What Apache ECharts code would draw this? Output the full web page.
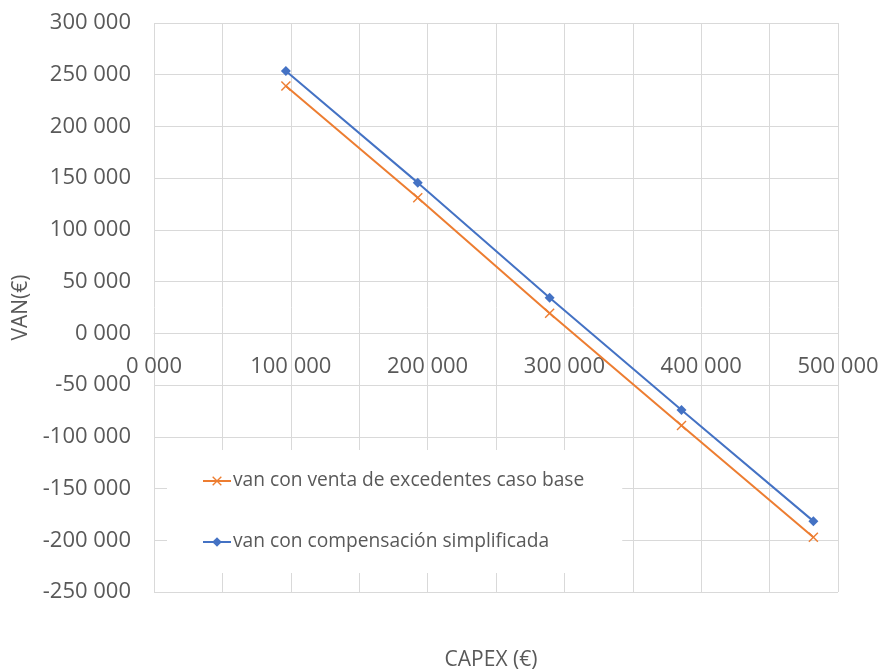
<!DOCTYPE html>
<html>
<head>
<meta charset="utf-8">
<script src="https://cdn.jsdelivr.net/npm/echarts@6/dist/echarts.min.js"></script>
<style>html,body{margin:0;padding:0;background:#fff}#c{width:882px;height:671px}</style>
</head>
<body>
<div id="c"></div>
<script>
const capex = [96400, 192800, 289200, 385600, 482000];
const vanVenta = [239000, 131000, 19500, -89000, -197000];
const vanCompensacion = [253500, 145700, 34500, -74000, -181500];
const seriesNames = ['van con venta de excedentes caso base', 'van con compensación simplificada'];
const xAxisTitle = 'CAPEX (€)';
const yAxisTitle = 'VAN(€)';

function fmt(v) {
  const k = Math.round(v / 1000);
  return (k < 0 ? '-' : '') + Math.abs(k) + ' 000';
}
const FONT = '"Open Sans"';
const GRAY = '#595959';
const GRID = '#d9d9d9';
const xMark = 'path://M1,0 L5,4 L9,0 L10,1 L6,5 L10,9 L9,10 L5,6 L1,10 L0,9 L4,5 L0,1 Z';

const H = 671, TOP = 23, BOTTOM = 79;
const Y_MIN = -250000, Y_MAX = 300000;
const plotH = H - TOP - BOTTOM;
const zeroOffset = -plotH * (0 - Y_MIN) / (Y_MAX - Y_MIN);

const chart = echarts.init(document.getElementById('c'), null, {renderer: 'canvas'});
chart.setOption({
  animation: false,
  backgroundColor: '#fff',
  grid: {left: 154, right: 44, top: TOP, bottom: BOTTOM, containLabel: false, outerBoundsMode: 'none'},
  xAxis: {
    type: 'value', min: 0, max: 500000, interval: 100000,
    position: 'bottom', offset: zeroOffset,
    name: xAxisTitle, nameLocation: 'middle', nameGap: 316,
    nameTextStyle: {fontFamily: FONT, fontSize: 21, color: GRAY, padding: [0, 10, 0, 0]},
    axisLine: {show: true, onZero: false, lineStyle: {color: GRID, width: 1}},
    axisTick: {show: false},
    axisLabel: {formatter: fmt, fontFamily: FONT, fontSize: 22, color: GRAY, margin: 22},
    splitLine: {show: true, lineStyle: {color: GRID, width: 1}},
    minorTick: {show: false, splitNumber: 2},
    minorSplitLine: {show: true, lineStyle: {color: GRID, width: 1}}
  },
  yAxis: {
    type: 'value', min: Y_MIN, max: Y_MAX, interval: 50000,
    name: yAxisTitle, nameLocation: 'middle', nameGap: 111,
    nameTextStyle: {fontFamily: FONT, fontSize: 21, color: GRAY},
    axisLine: {show: false, onZero: false},
    axisTick: {show: false},
    axisLabel: {formatter: fmt, fontFamily: FONT, fontSize: 22, color: GRAY, margin: 23},
    splitLine: {show: true, lineStyle: {color: GRID, width: 1}}
  },
  legend: {
    orient: 'vertical', left: 167, top: 450,
    backgroundColor: '#fff',
    padding: [21, 38, 21, 35],
    itemGap: 41, itemWidth: 28, itemHeight: 12,
    textStyle: {fontFamily: FONT, fontSize: 19.2, color: GRAY, lineHeight: 20, padding: [0, 0, 0, -3]},
    data: seriesNames
  },
  series: [
    {
      name: seriesNames[0], type: 'line', color: '#ED7D31',
      data: capex.map((x, i) => [x, vanVenta[i]]),
      symbol: xMark, symbolSize: 10, showAllSymbol: true,
      lineStyle: {width: 2, color: '#ED7D31'},
      itemStyle: {color: '#ED7D31'},
      z: 2
    },
    {
      name: seriesNames[1], type: 'line', color: '#4472C4',
      data: capex.map((x, i) => [x, vanCompensacion[i]]),
      symbol: 'diamond', symbolSize: 10, showAllSymbol: true,
      lineStyle: {width: 2, color: '#4472C4'},
      itemStyle: {color: '#4472C4'},
      z: 3
    }
  ]
});
</script>
</body>
</html>
